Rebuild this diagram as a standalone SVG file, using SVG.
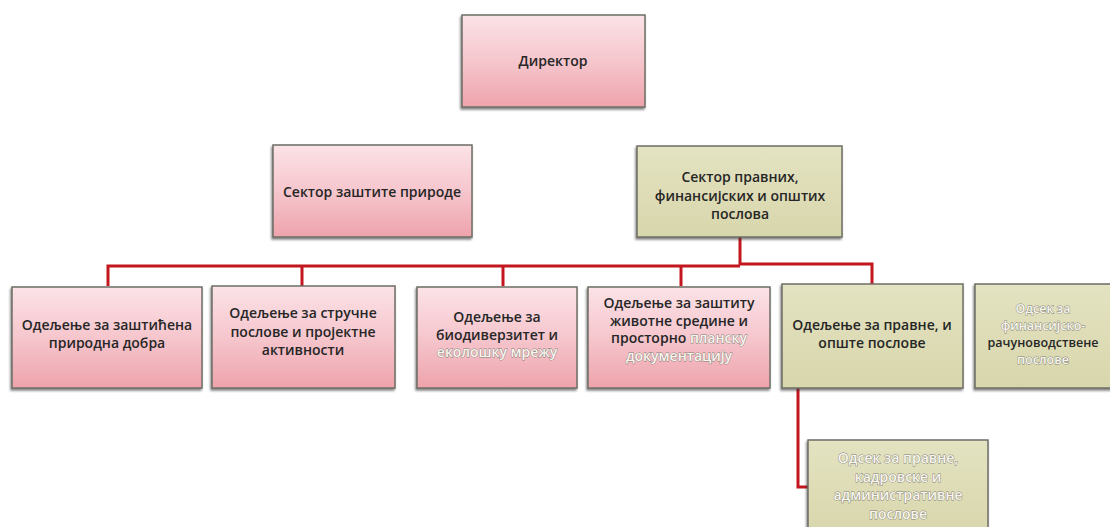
<svg xmlns="http://www.w3.org/2000/svg" width="1110" height="527" viewBox="0 0 1110 527">
<defs>
<linearGradient id="pink" x1="0" y1="0" x2="0" y2="1">
<stop offset="0" stop-color="#fbe3e7"/>
<stop offset="0.5" stop-color="#f6c6cd"/>
<stop offset="1" stop-color="#eea3ac"/>
</linearGradient>
<linearGradient id="beige" x1="0" y1="0" x2="0" y2="1">
<stop offset="0" stop-color="#e4e3c2"/>
<stop offset="1" stop-color="#d8d6ab"/>
</linearGradient>
<filter id="sh" x="-5%" y="-5%" width="112%" height="115%">
<feDropShadow dx="-1" dy="2" stdDeviation="1.2" flood-color="#333" flood-opacity="0.6"/>
</filter>
</defs>
<style>
.box{stroke:#6e6e66;stroke-width:1.5;filter:url(#sh)}
.p{fill:url(#pink)}
.b{fill:url(#beige)}
text{font-family:"Open Sans","Noto Sans",sans-serif;font-weight:600;font-size:14px;fill:#262626;text-anchor:middle}
.w{fill:#f7f5ee;stroke:#7d7c72;stroke-width:0.8;paint-order:stroke}
.s{font-size:12.5px}
.con{fill:none;stroke:#c3161e;stroke-width:3}
</style>
<g id="connectors">
<path class="con" d="M740 237 V265"/>
<path class="con" d="M108 286 V266 H740"/>
<path class="con" d="M302 266 V286"/>
<path class="con" d="M503 266 V286"/>
<path class="con" d="M681 266 V286"/>
<path class="con" d="M740 264 H872 V284"/>
<path class="con" d="M798 388 V487 H808"/>
</g>
<g id="director">
<rect class="box p" x="462" y="15" width="183" height="92"/>
<text x="553" y="66">Директор</text>
</g>
<g id="sektor-zastite">
<rect class="box p" x="273" y="145" width="199" height="92"/>
<text x="372" y="197">Сектор заштите природе</text>
</g>
<g id="sektor-pravnih">
<rect class="box b" x="637" y="146" width="205" height="91"/>
<text x="740" y="182">Сектор правних,</text>
<text x="740" y="201">финансијских и општих</text>
<text x="740" y="219">послова</text>
</g>
<g id="odeljenje-dobra">
<rect class="box p" x="12" y="287" width="190" height="101"/>
<text x="107" y="330">Одељење за заштићена</text>
<text x="107" y="348">природна  добра</text>
</g>
<g id="odeljenje-strucne">
<rect class="box p" x="212" y="286" width="183" height="102"/>
<text x="303" y="318">Одељење за стручне</text>
<text x="303" y="337">послове и пројектне</text>
<text x="303" y="355">активности</text>
</g>
<g id="odeljenje-biodiverzitet">
<rect class="box p" x="417" y="287" width="160" height="101"/>
<text x="497" y="322">Одељење за</text>
<text x="497" y="340">биодиверзитет и</text>
<text x="497" y="357" class="w">еколошку мрежу</text>
</g>
<g id="odeljenje-zivotne">
<rect class="box p" x="588" y="287" width="182" height="101"/>
<text x="679" y="308">Одељење за заштиту</text>
<text x="679" y="326">животне средине и</text>
<text x="679" y="343">просторно <tspan class="w">планску</tspan></text>
<text x="679" y="361" class="w">документацију</text>
</g>
<g id="odeljenje-pravne">
<rect class="box b" x="782" y="284" width="181" height="104"/>
<text x="872" y="330">Одељење за правне, и</text>
<text x="872" y="348">опште послове</text>
</g>
<g id="odsek-finansijsko">
<rect class="box b" x="975" y="284" width="140" height="104"/>
<text x="1043" y="313" class="w s">Одсек за</text>
<text x="1043" y="330" class="w s">финансијско-</text>
<text x="1043" y="347" class="s">рачуноводствене</text>
<text x="1043" y="364" class="w s">послове</text>
</g>
<g id="odsek-pravne">
<rect class="box b" x="808" y="440" width="180" height="95"/>
<text x="898" y="463" class="w">Одсек за правне,</text>
<text x="898" y="482" class="w">кадровске и</text>
<text x="898" y="500" class="w">административне</text>
<text x="898" y="519" class="w">послове</text>
</g>
</svg>
